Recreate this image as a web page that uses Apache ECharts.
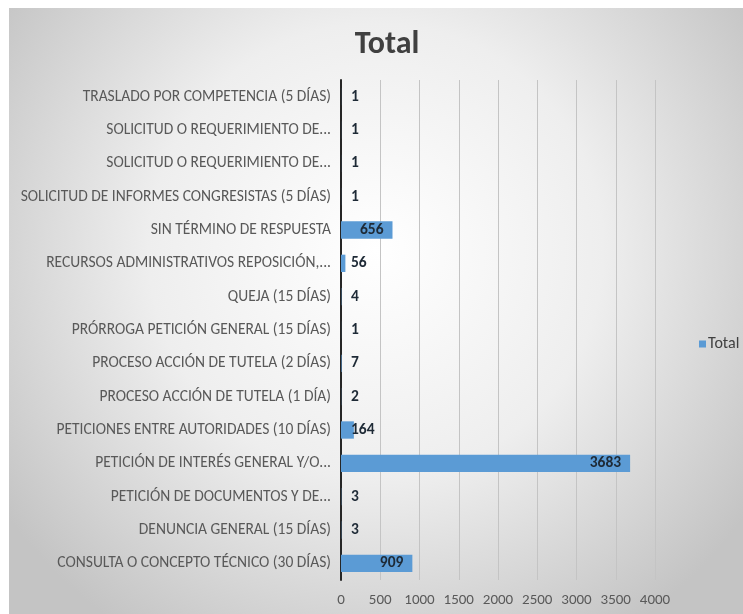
<!DOCTYPE html>
<html><head><meta charset="utf-8">
<script src="https://cdn.jsdelivr.net/npm/echarts@6/dist/echarts.min.js"></script>
<style>html,body{margin:0;padding:0;background:#fff}#c{width:743px;height:614px}</style>
</head><body><div id="c"></div>
<script>
var categories = [
  "CONSULTA O CONCEPTO TÉCNICO (30 DÍAS)",
  "DENUNCIA GENERAL (15 DÍAS)",
  "PETICIÓN DE DOCUMENTOS Y DE...",
  "PETICIÓN DE INTERÉS GENERAL Y/O...",
  "PETICIONES ENTRE AUTORIDADES (10 DÍAS)",
  "PROCESO ACCIÓN DE TUTELA (1 DÍA)",
  "PROCESO ACCIÓN DE TUTELA (2 DÍAS)",
  "PRÓRROGA PETICIÓN GENERAL (15 DÍAS)",
  "QUEJA (15 DÍAS)",
  "RECURSOS ADMINISTRATIVOS REPOSICIÓN,...",
  "SIN TÉRMINO DE RESPUESTA",
  "SOLICITUD DE INFORMES CONGRESISTAS (5 DÍAS)",
  "SOLICITUD O REQUERIMIENTO DE...",
  "SOLICITUD O REQUERIMIENTO DE...",
  "TRASLADO POR COMPETENCIA (5 DÍAS)"
];
var totals = [909, 3, 3, 3683, 164, 2, 7, 1, 4, 56, 656, 1, 1, 1, 1];
var xTicks = [0, 500, 1000, 1500, 2000, 2500, 3000, 3500, 4000];
var seriesName = "Total";
var titleText = "Total";

var FONT = "Carlito, 'Liberation Sans Narrow', 'DejaVu Sans Condensed', sans-serif";
var chart = echarts.init(document.getElementById('c'), null, {renderer: 'canvas'});
var data = totals.map(function (v) {
  var big = v > 300;
  return {
    value: v,
    label: big ? {position: 'insideRight', distance: 9} : {position: 'insideLeft', distance: 10}
  };
});
chart.setOption({
  animation: false,
  backgroundColor: '#ffffff',
  graphic: [{
    type: 'rect', z: -10, silent: true,
    shape: {x: 9, y: 8, width: 734, height: 606},
    style: {
      fill: new echarts.graphic.RadialGradient(0.5, 0.4, 0.75, [
        {offset: 0, color: '#ffffff'},
        {offset: 0.5, color: '#eeeeee'},
        {offset: 1, color: '#c4c4c4'}
      ])
    }
  }],
  title: {
    text: titleText, left: 382, top: 24, textAlign: 'center',
    textStyle: {fontFamily: FONT, fontSize: 32, fontWeight: 'bold', color: '#404040'}
  },
  legend: {
    data: [seriesName], left: 694, top: 331, orient: 'vertical',
    itemWidth: 7, itemHeight: 7, itemGap: 4,
    icon: 'rect',
    textStyle: {fontFamily: FONT, fontSize: 16, color: '#404040', padding: [0, 0, 0, -3]}
  },
  grid: {left: 341, right: 88, top: 80, bottom: 34, containLabel: false},
  xAxis: {
    type: 'value', min: xTicks[0], max: xTicks[xTicks.length - 1], interval: 500,
    axisLine: {show: false}, axisTick: {show: false},
    splitLine: {show: true, lineStyle: {color: '#c4c4c4', width: 1}},
    axisLabel: {fontFamily: FONT, fontSize: 15, color: '#595959', margin: 13,
      formatter: function (v) { return String(v); }}
  },
  yAxis: {
    type: 'category', data: categories,
    axisLine: {show: true, lineStyle: {color: '#262626', width: 2}},
    axisTick: {show: false},
    axisLabel: {fontFamily: FONT, fontSize: 15.5, color: '#595959', margin: 10}
  },
  series: [{
    name: seriesName, type: 'bar', data: data,
    barCategoryGap: '48%',
    itemStyle: {color: '#5b9bd5'},
    label: {show: true, fontFamily: FONT, fontSize: 15.5, fontWeight: 'bold', color: '#1e2a36'}
  }]
});
</script></body></html>
